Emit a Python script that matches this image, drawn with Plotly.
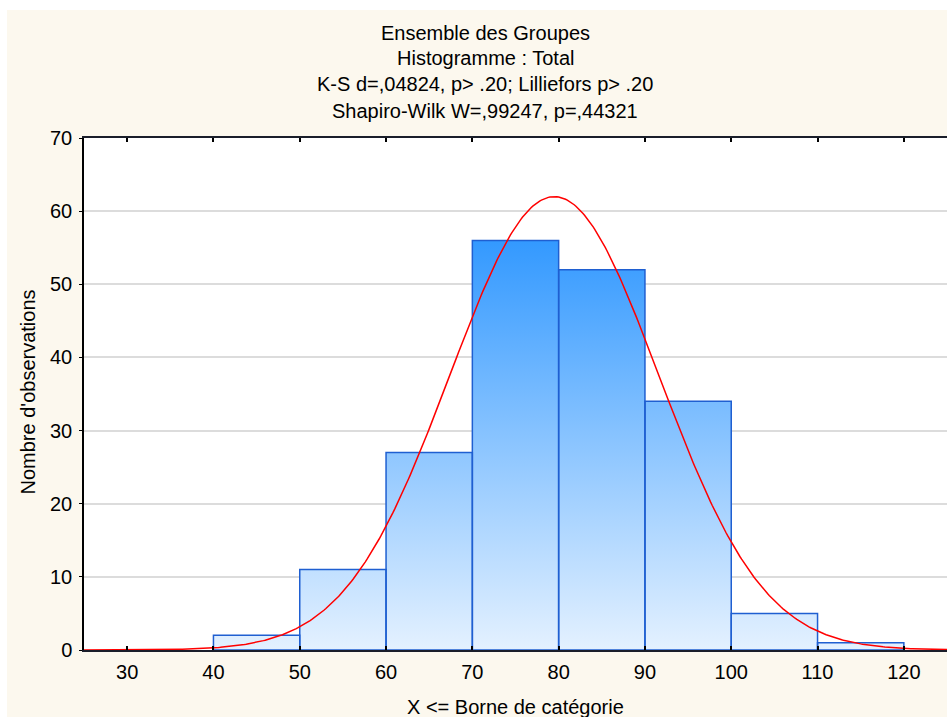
import numpy as np
import plotly.graph_objects as go

# ---- data ----
bin_lower = [30, 40, 50, 60, 70, 80, 90, 100, 110]
bin_upper = [40, 50, 60, 70, 80, 90, 100, 110, 120]
counts = [0, 2, 11, 27, 56, 52, 34, 5, 1]
x_ticks = [30, 40, 50, 60, 70, 80, 90, 100, 110, 120]
y_ticks = [0, 10, 20, 30, 40, 50, 60, 70]
fit_mean = 79.5
fit_sd = 12.1
title_lines = [
    "Ensemble des Groupes",
    "Histogramme : Total",
    "K-S d=,04824, p> .20; Lilliefors p> .20",
    "Shapiro-Wilk W=,99247, p=,44321",
]
x_title = "X <= Borne de catégorie"
y_title = "Nombre d'observations"

FONT = "Liberation Sans, Arial, sans-serif"
W, H = 947, 717
ML, MR, MT, MB = 84, 0, 138, 67
PW, PH = W - ML - MR, H - MT - MB

def px_to_paper_y(py):
    return (H - MB - py) / PH

def px_to_paper_x(px):
    return (px - ML) / PW

fig = go.Figure()

# histogram bars as gradient-filled rectangles built from the bins
xs, ys = [], []
for lo, hi, c in zip(bin_lower, bin_upper, counts):
    if c <= 0:
        continue
    xs += [lo, lo, hi, hi, lo, None]
    ys += [0, c, c, 0, 0, None]
fig.add_trace(go.Scatter(
    x=xs, y=ys, mode="lines", fill="toself",
    line=dict(color="#1F5FD1", width=1.5),
    fillgradient=dict(type="vertical",
                      colorscale=[[0, "#E4F1FF"], [1, "#3399FF"]],
                      start=0, stop=max(counts)),
    hoverinfo="skip", showlegend=False,
))

# fitted normal curve
n_total = sum(counts)
bw = bin_upper[0] - bin_lower[0]
cx = np.linspace(25, 125, 501)
cy = n_total * bw / (fit_sd * np.sqrt(2 * np.pi)) * np.exp(-0.5 * ((cx - fit_mean) / fit_sd) ** 2)
fig.add_trace(go.Scatter(x=cx, y=cy, mode="lines",
                         line=dict(color="#FF0000", width=1.5),
                         hoverinfo="skip", showlegend=False))

annotations = []
title_y_px = [33, 57.5, 84, 111]
for t, py in zip(title_lines, title_y_px):
    annotations.append(dict(text=t, x=px_to_paper_x(485), y=px_to_paper_y(py),
                            xref="paper", yref="paper", xanchor="center", yanchor="middle",
                            showarrow=False, font=dict(family=FONT, size=20, color="#000")))
annotations.append(dict(text=x_title, x=0.5, y=px_to_paper_y(707),
                        xref="paper", yref="paper", xanchor="center", yanchor="middle",
                        showarrow=False, font=dict(family=FONT, size=20, color="#000")))
annotations.append(dict(text=y_title, x=px_to_paper_x(27.5), y=px_to_paper_y(392),
                        xref="paper", yref="paper", xanchor="center", yanchor="middle",
                        textangle=-90, showarrow=False,
                        font=dict(family=FONT, size=20, color="#000")))

shapes = [
    # white strips around the cream frame
    dict(type="rect", xref="paper", yref="paper", layer="above",
         x0=px_to_paper_x(0), x1=px_to_paper_x(W), y0=px_to_paper_y(0), y1=px_to_paper_y(10),
         fillcolor="#FFFFFF", line=dict(width=0)),
    dict(type="rect", xref="paper", yref="paper", layer="above",
         x0=px_to_paper_x(0), x1=px_to_paper_x(7), y0=px_to_paper_y(0), y1=px_to_paper_y(H),
         fillcolor="#FFFFFF", line=dict(width=0)),
]

fig.update_layout(
    width=W, height=H,
    margin=dict(l=ML, r=MR, t=MT, b=MB, autoexpand=False),
    paper_bgcolor="#FCF8EE",
    plot_bgcolor="#FFFFFF",
    font=dict(family=FONT, size=20, color="#000"),
    showlegend=False,
    hovermode=False,
    annotations=annotations,
    shapes=shapes,
    xaxis=dict(range=[25, 125], tickvals=x_ticks, ticktext=[str(v) for v in x_ticks],
               ticks="inside", ticklen=4, tickwidth=1.5, tickcolor="#000",
               showline=True, linecolor="#1A1E2A", linewidth=2, mirror="ticks",
               showgrid=False, zeroline=False, ticklabelstandoff=3, automargin=False,
               tickfont=dict(family=FONT, size=20, color="#000")),
    yaxis=dict(range=[0, 70], tickvals=y_ticks, ticktext=[str(v) for v in y_ticks],
               ticks="outside", ticklen=3, tickwidth=1, tickcolor="#000",
               showline=True, linecolor="#000", linewidth=1.5, mirror=False,
               showgrid=True, gridcolor="#DCDCDC", gridwidth=1.5, zeroline=False,
               ticklabelstandoff=3, automargin=False,
               tickfont=dict(family=FONT, size=20, color="#000")),
)

fig.write_html("out.html", config={"displayModeBar": False})
